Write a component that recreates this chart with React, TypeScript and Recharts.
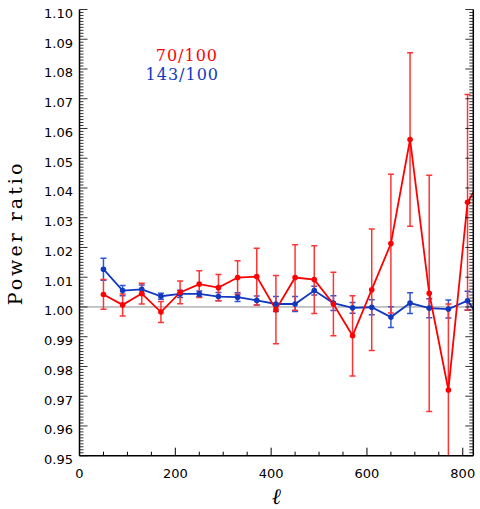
import { ComposedChart, Line, XAxis, YAxis, ErrorBar, ReferenceLine, Label, Customized } from 'recharts';

// multipole bin centres (the last one sits just past the frame, the lines run out to it)
const multipoles = [50, 90, 130, 170, 210, 250, 290, 330, 370, 410, 450, 490, 530, 570, 610, 650, 690, 730, 770, 810, 850];

const ratio70 = [1.0042, 1.0007, 1.0045, 0.9983, 1.0049, 1.0077, 1.0065, 1.0099, 1.0102, 0.9991, 1.0099, 1.0092, 1.0010, 0.9903, 1.0058, 1.0213, 1.0563, 1.0046, 0.9721, 1.0352, 1.046];
const err70 = [0.0050, 0.0037, 0.0035, 0.0035, 0.0038, 0.0045, 0.0044, 0.0056, 0.0095, 0.0115, 0.0110, 0.0114, 0.0107, 0.0135, 0.0204, 0.0233, 0.0292, 0.0397, 0.0289, 0.0362, 0.040];

const ratio143 = [1.0127, 1.0055, 1.0059, 1.0036, 1.0044, 1.0044, 1.0035, 1.0033, 1.0022, 1.0010, 1.0010, 1.0055, 1.0013, 0.9997, 0.9999, 0.9966, 1.0013, 0.9996, 0.9993, 1.0021, 0.993];
const err143 = [0.0037, 0.0017, 0.0015, 0.0010, 0.0012, 0.0010, 0.0014, 0.0015, 0.0015, 0.0025, 0.0025, 0.0015, 0.0025, 0.0018, 0.0025, 0.0035, 0.0035, 0.0032, 0.0030, 0.0032, 0.003];

const xTicks = [0, 50, 100, 150, 200, 250, 300, 350, 400, 450, 500, 550, 600, 650, 700, 750, 800];
const xLabelled = [0, 200, 400, 600, 800];
const yMajorTicks = [0.95, 0.96, 0.97, 0.98, 0.99, 1.0, 1.01, 1.02, 1.03, 1.04, 1.05, 1.06, 1.07, 1.08, 1.09, 1.1];

// minor ticks every 0.001 between the labelled ones
const yTicks: number[] = [];
yMajorTicks.forEach((v, i) => {
  yTicks.push(v);
  if (i < yMajorTicks.length - 1) {
    for (let k = 1; k < 10; k++) yTicks.push(Math.round((v + k * 0.001) * 1000) / 1000);
  }
});
const isMajorY = (v: number) => Math.round(v * 1000) % 10 === 0;

const RED = '#ff0000';
const RED_ERR = '#ff3434';
const BLUE = '#1238c0';
const BLUE_ERR = '#2f55d6';

const data = multipoles.map((l, i) => ({
  l,
  r70: ratio70[i],
  e70: err70[i],
  r143: ratio143[i],
  e143: err143[i],
}));

const tickFont = { fontFamily: '"DejaVu Sans", sans-serif', fontSize: 13, fill: '#000' };

const BottomTick = (props: any) => {
  const { x, y, payload } = props;
  const major = xLabelled.includes(payload.value);
  return (
    <g>
      <line x1={x} y1={y} x2={x} y2={y - (major ? 8 : 4)} stroke="#000" strokeWidth={1} />
      {major && (
        <text x={x} y={y + 22} textAnchor="middle" {...tickFont}>
          {payload.value}
        </text>
      )}
    </g>
  );
};

const TopTick = (props: any) => {
  const { x, y, payload } = props;
  const major = xLabelled.includes(payload.value);
  return <line x1={x} y1={y} x2={x} y2={y + (major ? 8 : 4)} stroke="#000" strokeWidth={1} />;
};

const LeftTick = (props: any) => {
  const { x, y, payload } = props;
  const major = isMajorY(payload.value);
  return (
    <g>
      <line x1={x} y1={y} x2={x + (major ? 8 : 4)} y2={y} stroke="#000" strokeWidth={0.8} />
      {major && (
        <text x={x - 6.5} y={y + 8.5} textAnchor="end" {...tickFont}>
          {payload.value.toFixed(2)}
        </text>
      )}
    </g>
  );
};

const RightTick = (props: any) => {
  const { x, y, payload } = props;
  const major = isMajorY(payload.value);
  return <line x1={x} y1={y} x2={x - (major ? 8 : 4)} y2={y} stroke="#000" strokeWidth={0.8} />;
};

// legend text + a clip box so the error bars stop at the frame
const Extras = () => (
  <g>
    <defs>
      <clipPath id="plot-frame">
        <rect x={79.5} y={9.5} width={393.8} height={446.2} />
      </clipPath>
    </defs>
    <g fontFamily='"DejaVu Serif", serif' fontSize={16} letterSpacing={1}>
      <text x={218} y={61} textAnchor="end" fill={RED}>70/100</text>
      <text x={219} y={80} textAnchor="end" fill={BLUE}>143/100</text>
    </g>
  </g>
);

const axisLineStyle = { stroke: '#000', strokeWidth: 1.5 };

export default function App() {
  return (
    <div style={{ position: 'absolute', left: 0, top: 0, width: 480, height: 509, background: '#fff' }}>
      <style>{`.recharts-errorBars { clip-path: url(#plot-frame); }`}</style>
      <ComposedChart width={480} height={509} data={data} margin={{ top: 9.5, right: 0, bottom: 0, left: 0 }}>
        <XAxis
          xAxisId="bottom"
          dataKey="l"
          type="number"
          domain={[0, 822]}
          allowDataOverflow
          ticks={xTicks}
          interval={0}
          tickSize={0}
          tickMargin={0}
          tick={<BottomTick />}
          axisLine={axisLineStyle}
          height={53.3}
        >
          <Label
            value="ℓ"
            position="insideBottom"
            offset={5}
            style={{ fontFamily: '"DejaVu Serif", serif', fontStyle: 'italic', fontSize: 22, fill: '#000' }}
          />
        </XAxis>
        <XAxis
          xAxisId="top"
          orientation="top"
          dataKey="l"
          type="number"
          domain={[0, 822]}
          allowDataOverflow
          ticks={xTicks}
          interval={0}
          tickSize={0}
          tickMargin={0}
          tick={<TopTick />}
          axisLine={axisLineStyle}
          height={0}
        />
        <YAxis
          yAxisId="left"
          type="number"
          domain={[0.95, 1.1]}
          allowDataOverflow
          ticks={yTicks}
          interval={0}
          tickSize={0}
          tickMargin={0}
          tick={<LeftTick />}
          axisLine={axisLineStyle}
          width={79.5}
        >
          <Label
            content={() => (
              <text
                x={15}
                y={233}
                transform="rotate(-90, 15, 233)"
                textAnchor="middle"
                dominantBaseline="central"
                fontFamily='"DejaVu Serif", serif'
                fontSize={19}
                letterSpacing={3}
                fill="#000"
              >
                Power ratio
              </text>
            )}
          />
        </YAxis>
        <YAxis
          yAxisId="right"
          orientation="right"
          type="number"
          domain={[0.95, 1.1]}
          allowDataOverflow
          ticks={yTicks}
          interval={0}
          tickSize={0}
          tickMargin={0}
          tick={<RightTick />}
          axisLine={axisLineStyle}
          width={6.7}
        />
        <ReferenceLine xAxisId="bottom" yAxisId="left" y={1} stroke="#8c8c8c" strokeWidth={1} />
        <Line
          xAxisId="bottom"
          yAxisId="left"
          dataKey="r143"
          stroke={BLUE}
          strokeWidth={1.8}
          dot={{ r: 2.8, fill: BLUE, stroke: BLUE, strokeWidth: 0 }}
          isAnimationActive={false}
        >
          <ErrorBar dataKey="e143" width={3} stroke={BLUE_ERR} strokeWidth={1.5} direction="y" isAnimationActive={false} />
        </Line>
        <Line
          xAxisId="bottom"
          yAxisId="left"
          dataKey="r70"
          stroke={RED}
          strokeWidth={1.8}
          dot={{ r: 2.8, fill: RED, stroke: RED, strokeWidth: 0 }}
          isAnimationActive={false}
        >
          <ErrorBar dataKey="e70" width={3} stroke={RED_ERR} strokeWidth={1.5} direction="y" isAnimationActive={false} />
        </Line>
        <Customized component={Extras} />
      </ComposedChart>
    </div>
  );
}
